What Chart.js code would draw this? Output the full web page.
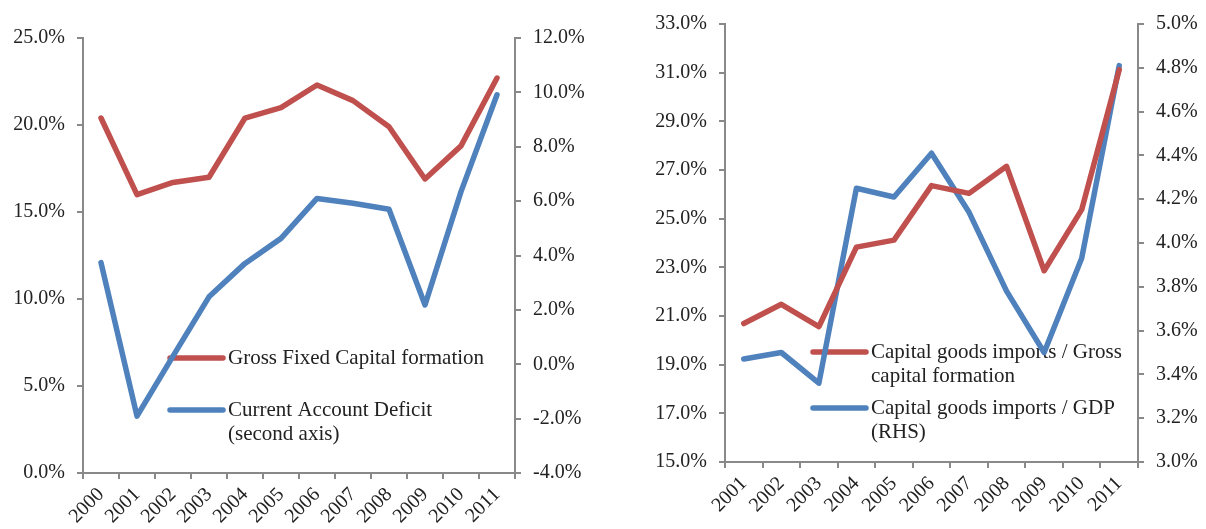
<!DOCTYPE html>
<html>
<head>
<meta charset="utf-8">
<script src="https://cdn.jsdelivr.net/npm/chart.js@4.4.1/dist/chart.umd.min.js"></script>
<style>
  html, body { margin: 0; padding: 0; background: #fff; }
  .wrap { position: absolute; top: 0; height: 529px; }
  #leftWrap { left: 0; width: 600px; }
  #rightWrap { left: 600px; width: 606px; }
</style>
</head>
<body>
<div class="wrap" id="leftWrap"><canvas id="leftChart" width="600" height="529"></canvas></div>
<div class="wrap" id="rightWrap"><canvas id="rightChart" width="606" height="529"></canvas></div>
<script>
// left chart data
const yearsLeft = ['2000','2001','2002','2003','2004','2005','2006','2007','2008','2009','2010','2011'];
const grossFixedCapital = [20.4, 16.0, 16.7, 17.0, 20.4, 21.0, 22.3, 21.4, 19.9, 16.9, 18.8, 22.7];
const currentAccountDeficit = [3.74, -1.91, 0.3, 2.48, 3.71, 4.63, 6.1, 5.92, 5.7, 2.18, 6.35, 9.91];

// right chart data
const yearsRight = ['2001','2002','2003','2004','2005','2006','2007','2008','2009','2010','2011'];
const importsToGCF = [20.69, 21.48, 20.56, 23.83, 24.12, 26.36, 26.04, 27.15, 22.86, 25.37, 31.12];
const importsToGDP = [3.47, 3.50, 3.36, 4.25, 4.21, 4.41, 4.14, 3.78, 3.50, 3.93, 4.81];

const RED = '#C0504D';
const BLUE = '#4F81BD';
const AXIS = '#898989';
const FONT = "'Liberation Serif', 'Times New Roman', serif";

Chart.defaults.font.family = FONT;
Chart.defaults.color = '#222';

// legend drawn inside the plot, under the lines
const insideLegend = {
  id: 'insideLegend',
  beforeDatasetsDraw(chart, args, opts) {
    const ctx = chart.ctx;
    ctx.save();
    ctx.font = '21px ' + FONT;
    ctx.textBaseline = 'middle';
    ctx.fillStyle = '#222';
    opts.items.forEach(it => {
      ctx.strokeStyle = it.color;
      ctx.lineWidth = 5.5;
      ctx.lineCap = 'round';
      ctx.beginPath();
      ctx.moveTo(it.x, it.y);
      ctx.lineTo(it.x + 53, it.y);
      ctx.stroke();
      it.lines.forEach((t, i) => ctx.fillText(t, it.x + 58, it.y + i * 24.5));
    });
    ctx.restore();
  }
};

function pct(v) { return v.toFixed(1) + '%'; }

function yAxis(pos, min, max, step, width) {
  return {
    position: pos,
    min: min,
    max: max,
    afterFit(s) { s.width = width; },
    border: { display: true, color: AXIS, width: 2 },
    grid: { drawOnChartArea: false, color: AXIS, lineWidth: 2, tickLength: 6 },
    ticks: { stepSize: step, padding: 12, font: { size: 20 }, callback: pct }
  };
}

function xAxis(height) {
  return {
    offset: true,
    afterFit(s) { s.height = height; },
    border: { display: true, color: AXIS, width: 2 },
    grid: { offset: true, drawOnChartArea: false, color: AXIS, lineWidth: 2, tickLength: 6 },
    ticks: { autoSkip: false, maxRotation: 45, minRotation: 45, padding: 4, font: { size: 20 } }
  };
}

function lineSet(label, data, color, axis) {
  return {
    label: label, data: data, yAxisID: axis,
    borderColor: color, backgroundColor: color,
    borderWidth: 5.5, pointRadius: 0, tension: 0,
    borderJoinStyle: 'round', borderCapStyle: 'round'
  };
}

new Chart(document.getElementById('leftChart').getContext('2d'), {
  type: 'line',
  data: {
    labels: yearsLeft,
    datasets: [
      lineSet('Gross Fixed Capital formation', grossFixedCapital, RED, 'y'),
      lineSet('Current Account Deficit (second axis)', currentAccountDeficit, BLUE, 'y1')
    ]
  },
  options: {
    responsive: false,
    animation: false,
    layout: { padding: { top: 38, left: 0, right: 0, bottom: 0 } },
    scales: {
      x: xAxis(56),
      y: yAxis('left', 0, 25, 5, 83),
      y1: yAxis('right', -4, 12, 2, 85)
    },
    plugins: {
      legend: { display: false },
      tooltip: { enabled: false },
      insideLegend: {
        items: [
          { color: RED, x: 170, y: 358, lines: ['Gross Fixed Capital formation'] },
          { color: BLUE, x: 170, y: 410, lines: ['Current Account Deficit', '(second axis)'] }
        ]
      }
    }
  },
  plugins: [insideLegend]
});

new Chart(document.getElementById('rightChart').getContext('2d'), {
  type: 'line',
  data: {
    labels: yearsRight,
    datasets: [
      lineSet('Capital goods imports / Gross capital formation', importsToGCF, RED, 'y'),
      lineSet('Capital goods imports / GDP (RHS)', importsToGDP, BLUE, 'y1')
    ]
  },
  options: {
    responsive: false,
    animation: false,
    layout: { padding: { top: 19, left: 0, right: 0, bottom: 0 } },
    scales: {
      x: xAxis(67),
      y: yAxis('left', 15, 33, 2, 125),
      y1: yAxis('right', 3, 5, 0.2, 68)
    },
    plugins: {
      legend: { display: false },
      tooltip: { enabled: false },
      insideLegend: {
        items: [
          { color: RED, x: 213, y: 352, lines: ['Capital goods imports / Gross', 'capital formation'] },
          { color: BLUE, x: 213, y: 408, lines: ['Capital goods imports / GDP', '(RHS)'] }
        ]
      }
    }
  },
  plugins: [insideLegend]
});
</script>
</body>
</html>
